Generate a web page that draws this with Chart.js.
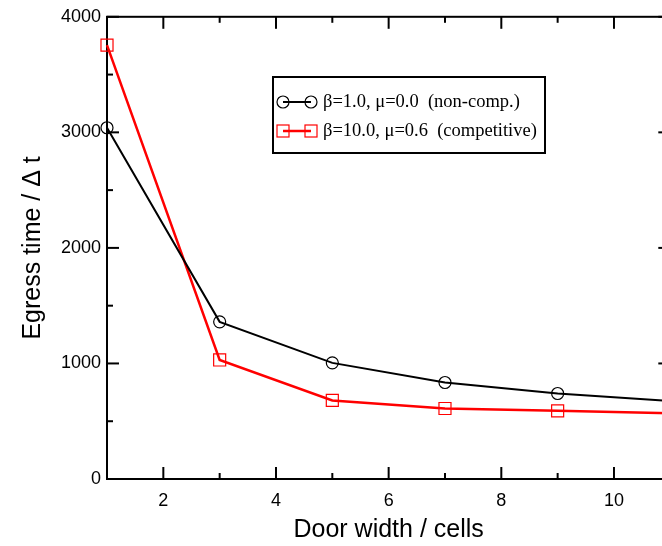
<!DOCTYPE html>
<html>
<head>
<meta charset="utf-8">
<script src="https://cdn.jsdelivr.net/npm/chart.js@4/dist/chart.umd.min.js"></script>
<style>
  html, body { margin: 0; padding: 0; background: #fff; overflow: hidden; }
  #wrap { width: 662px; height: 546px; overflow: hidden; }
</style>
</head>
<body>
<div id="wrap">
  <canvas id="myChart" width="680" height="546"></canvas>
</div>
<script>
// door width (cells)
const doorWidth = [1, 3, 5, 7, 9, 11];
// egress time / dt
const nonCompetitive = [3040, 1360, 1005, 835, 740, 675];
const competitive = [3755, 1030, 680, 610, 590, 570];

const xTicks = [2, 4, 6, 8, 10];
const xMinor = [3, 5, 7, 9];
const yTicks = [0, 1000, 2000, 3000, 4000];
const yMinor = [500, 1500, 2500, 3500];

const legendLabels = [
  "\u03b2=1.0, \u03bc=0.0  (non-comp.)",
  "\u03b2=10.0, \u03bc=0.6  (competitive)",
];

// box round the plot + inward ticks on all four sides
const frameTicks = {
  id: "frameTicks",
  beforeDatasetsDraw(chart) {
    const { ctx, chartArea: a, scales } = chart;
    const x = scales.x, y = scales.y;
    ctx.save();
    ctx.strokeStyle = "#000";
    ctx.lineWidth = 2;
    ctx.strokeRect(a.left, a.top, a.right - a.left, a.bottom - a.top);
    const seg = (x1, y1, x2, y2) => {
      ctx.beginPath();
      ctx.moveTo(x1, y1);
      ctx.lineTo(x2, y2);
      ctx.stroke();
    };
    xTicks.forEach((v) => {
      const px = x.getPixelForValue(v);
      seg(px, a.bottom, px, a.bottom - 12);
      seg(px, a.top, px, a.top + 12);
    });
    xMinor.forEach((v) => {
      const px = x.getPixelForValue(v);
      seg(px, a.bottom, px, a.bottom - 6);
      seg(px, a.top, px, a.top + 6);
    });
    yTicks.forEach((v) => {
      const py = y.getPixelForValue(v);
      seg(a.left, py, a.left + 12, py);
      seg(a.right, py, a.right - 12, py);
    });
    yMinor.forEach((v) => {
      const py = y.getPixelForValue(v);
      seg(a.left, py, a.left + 6, py);
      seg(a.right, py, a.right - 6, py);
    });
    ctx.restore();
  },
};

const boxLegend = {
  id: "boxLegend",
  afterDraw(chart) {
    const ctx = chart.ctx;
    ctx.save();
    ctx.strokeStyle = "#000";
    ctx.lineWidth = 2;
    ctx.strokeRect(273, 77, 272, 76);

    // row 1
    ctx.strokeStyle = "#000";
    ctx.lineWidth = 2;
    ctx.beginPath();
    ctx.moveTo(283, 102);
    ctx.lineTo(311, 102);
    ctx.stroke();
    ctx.lineWidth = 1.2;
    [283, 311].forEach((cx) => {
      ctx.beginPath();
      ctx.arc(cx, 102, 6, 0, Math.PI * 2);
      ctx.stroke();
    });

    // row 2
    ctx.strokeStyle = "#ff0000";
    ctx.lineWidth = 2.5;
    ctx.beginPath();
    ctx.moveTo(283, 131);
    ctx.lineTo(311, 131);
    ctx.stroke();
    ctx.lineWidth = 1.2;
    [283, 311].forEach((cx) => {
      ctx.strokeRect(cx - 6, 125, 12, 12);
    });

    ctx.fillStyle = "#000";
    ctx.font = "18.5px 'Liberation Serif', 'DejaVu Serif', serif";
    ctx.textBaseline = "middle";
    ctx.fillText(legendLabels[0], 323, 102);
    ctx.fillText(legendLabels[1], 323, 131);
    ctx.restore();
  },
};

const ctx = document.getElementById("myChart").getContext("2d");
const myChart = new Chart(ctx, {
  type: "line",
  data: {
    labels: doorWidth,
    datasets: [
      {
        label: legendLabels[0],
        data: doorWidth.map((d, i) => ({ x: d, y: nonCompetitive[i] })),
        borderColor: "#000",
        borderWidth: 2,
        pointStyle: "circle",
        pointRadius: 6,
        pointBorderWidth: 1.2,
        pointBorderColor: "#000",
        pointBackgroundColor: "rgba(0,0,0,0)",
        tension: 0,
        clip: false,
      },
      {
        label: legendLabels[1],
        data: doorWidth.map((d, i) => ({ x: d, y: competitive[i] })),
        borderColor: "#ff0000",
        borderWidth: 2.5,
        pointStyle: "rect",
        pointRadius: 8.5,
        pointBorderWidth: 1.2,
        pointBorderColor: "#ff0000",
        pointBackgroundColor: "rgba(0,0,0,0)",
        tension: 0,
        clip: false,
      },
    ],
  },
  options: {
    responsive: false,
    animation: false,
    events: [],
    layout: { padding: { left: 0, right: 5, top: 15, bottom: 0 } },
    plugins: {
      legend: { display: false },
      tooltip: { enabled: false },
      title: { display: false },
    },
    scales: {
      x: {
        type: "linear",
        min: 1,
        max: 11,
        afterBuildTicks: (s) => {
          s.ticks = xTicks.map((v) => ({ value: v }));
        },
        afterFit: (s) => {
          s.height = 67;
        },
        grid: { display: false, drawTicks: false },
        border: { display: false },
        ticks: {
          color: "#000",
          padding: 11,
          maxRotation: 0,
          callback: (v) => String(v),
          font: { family: "'Liberation Sans', Arial, sans-serif", size: 18 },
        },
        title: {
          display: true,
          text: "Door width / cells",
          color: "#000",
          padding: { top: 0, bottom: 1 },
          font: { family: "'Liberation Sans', Arial, sans-serif", size: 25 },
        },
      },
      y: {
        min: 0,
        max: 4000,
        afterBuildTicks: (s) => {
          s.ticks = yTicks.map((v) => ({ value: v }));
        },
        afterFit: (s) => {
          s.width = 107;
        },
        grid: { display: false, drawTicks: false },
        border: { display: false },
        ticks: {
          color: "#000",
          padding: 6,
          callback: (v) => String(v),
          font: { family: "'Liberation Sans', Arial, sans-serif", size: 18 },
        },
        title: {
          display: true,
          text: "Egress time / \u0394 t",
          color: "#000",
          padding: { top: 18, bottom: 0 },
          font: { family: "'Liberation Sans', Arial, sans-serif", size: 25 },
        },
      },
    },
  },
  plugins: [frameTicks, boxLegend],
});
</script>
</body>
</html>
